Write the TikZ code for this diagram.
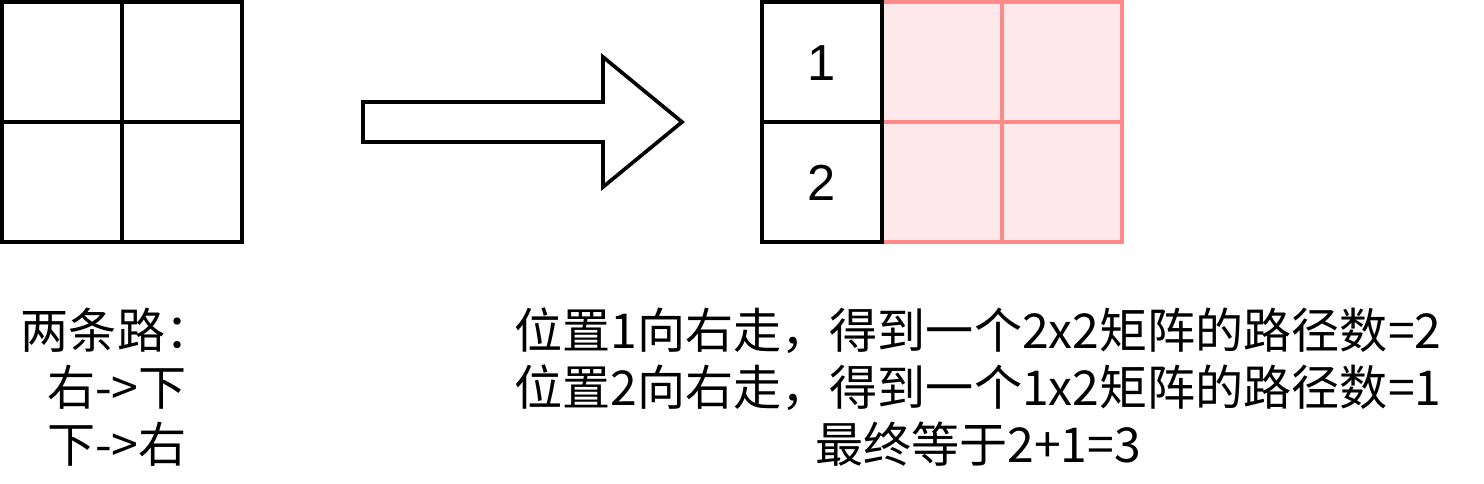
\documentclass[tikz,border=0pt]{standalone}
\usepackage{fontspec}
\setmainfont{Liberation Sans}
\newfontfamily\cjk{Noto Sans CJK SC}
\definecolor{cellred}{HTML}{FF8A8A}
\definecolor{cellpink}{HTML}{FFE8EC}

\begin{document}
\begin{tikzpicture}[x=0.025cm,y=-0.025cm,line width=2.6pt,
    note/.style={font=\cjk\fontsize{34.2}{40.5}\selectfont,align=center,inner sep=0pt},
    digit/.style={font=\fontsize{36}{40}\selectfont,inner sep=0pt}]
        \useasboundingbox (0,0) rectangle (1484,484);
        \draw (2,2) rectangle (242,242);
        \draw (122,2) -- (122,242) (2,122) -- (242,122);

        \draw (363,102) -- (603,102) -- (603,57) -- (682,122) -- (603,187) -- (603,142) -- (363,142) -- cycle;

        \draw [cellred, fill=cellpink] (882,2) rectangle (1122,242);
        \draw [cellred] (1002,2) -- (1002,242) (882,122) -- (1122,122);
        \draw (762,2) rectangle (882,242);
        \draw (762,122) -- (882,122);
        \node [digit] (one) at (822,63) {1};
        \node [digit] (two) at (822,183) {2};

        \node [note] (paths) at (117,387) {两条路：\\右->下\\下->右};
        \node [note] (steps) at (978,387) {位置1向右走，得到一个2x2矩阵的路径数=2\\位置2向右走，得到一个1x2矩阵的路径数=1\\最终等于2+1=3};
    \end{tikzpicture}
\end{document}
